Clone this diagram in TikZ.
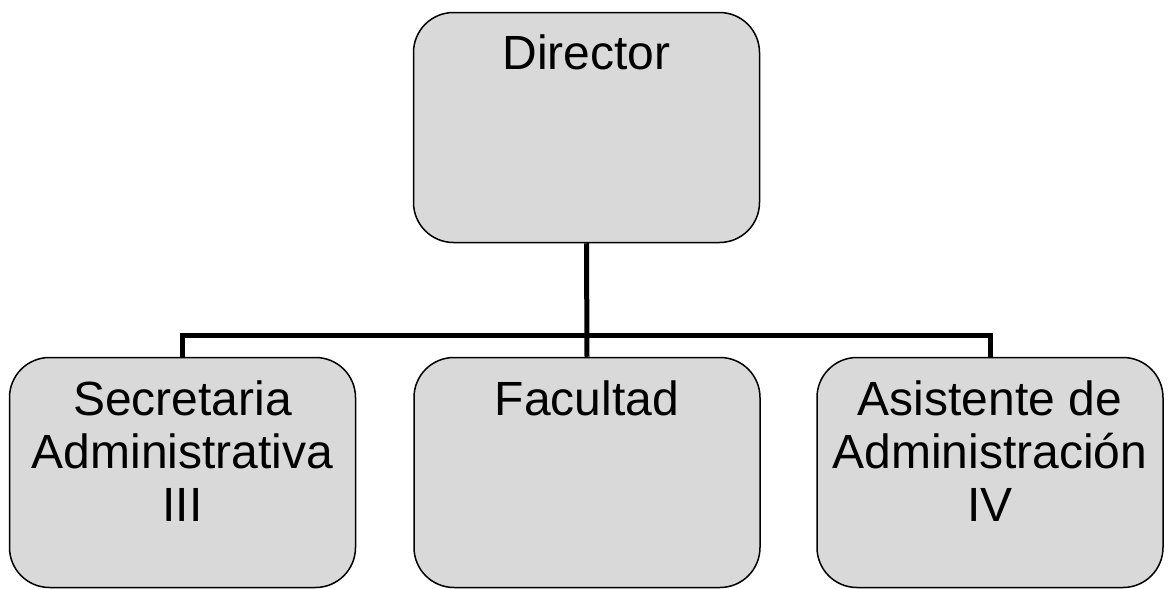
\documentclass[tikz,border=0pt]{standalone}
\usepackage{fontspec}
\setmainfont{Liberation Sans}
\definecolor{boxgray}{HTML}{D9D9D9}
\begin{document}
\begin{tikzpicture}[x=0.5pt,y=-0.5pt,
    caja/.style={draw, line width=0.75pt, fill=boxgray, rounded corners=20pt,
                 minimum width=173pt, minimum height=115pt, inner sep=0pt},
    texto/.style={inner sep=0pt, align=center, font=\fontsize{24}{26.5}\selectfont},
    linea/.style={line width=2.5pt}]
    \useasboundingbox (0,0) rectangle (1169,589);

% cajas
\node[caja] (dir) at (586.5,127.5) {};
\node[caja] (sec) at (182.5,472.5) {};
\node[caja] (fac) at (587,472.5) {};
\node[caja] (asis) at (990,472.5) {};

% textos
\node[texto, anchor=north] (tdir) at ([yshift=-11.5pt]dir.north) {Director};
\node[texto, anchor=north] (tsec) at ([yshift=-12pt]sec.north) {Secretaria\\Administrativa\\III};
\node[texto, anchor=north] (tfac) at ([yshift=-12pt]fac.north) {Facultad};
\node[texto, anchor=north] (tasis) at ([yshift=-12pt]asis.north) {Asistente de\\Administración\\IV};

% lineas
\coordinate (bus) at (587,335.5);
\draw[linea] (dir.south) -- (fac.north);
\draw[linea] (sec.north) |- (bus) -| (asis.north);

\end{tikzpicture}
\end{document}
